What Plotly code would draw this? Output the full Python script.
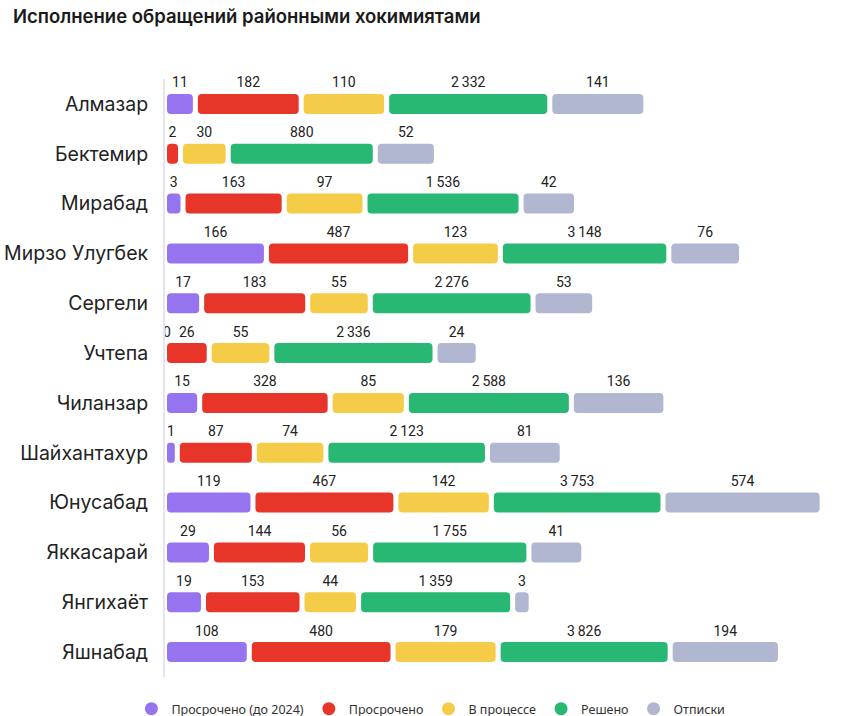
import plotly.graph_objects as go

# ---------------- data ----------------
districts = ["Алмазар", "Бектемир", "Мирабад", "Мирзо Улугбек", "Сергели", "Учтепа",
             "Чиланзар", "Шайхантахур", "Юнусабад", "Яккасарай", "Янгихаёт", "Яшнабад"]
overdue_pre2024 = [11, None, 3, 166, 17, 0, 15, 1, 119, 29, 19, 108]
overdue = [182, 2, 163, 487, 183, 26, 328, 87, 467, 144, 153, 480]
in_progress = [110, 30, 97, 123, 55, 55, 85, 74, 142, 56, 44, 179]
resolved = [2332, 880, 1536, 3148, 2276, 2336, 2588, 2123, 3753, 1755, 1359, 3826]
rejected = [141, 52, 42, 76, 53, 24, 136, 81, 574, 41, 3, 194]

series_names = ["Просрочено (до 2024)", "Просрочено", "В процессе", "Решено", "Отписки"]
series_values = [overdue_pre2024, overdue, in_progress, resolved, rejected]

# ---------------- style ----------------
colors = ["#9673EF", "#E8352A", "#F5CC48", "#28B874", "#B1B6D1"]
# per-series length scale: k * v**p, softly capped
scale_params = [(7.8, 0.5, 160), (7.8, 0.5, 160), (7.8, 0.5, 160), (67.4, 0.11, None), (7.8, 0.5, 180)]
GAP = 5
BAR_W = 0.4
LABEL_OFFSET = 0.40

W, H = 867, 716


def seg_len(v, k, p, cap):
    if not v:
        return 0.0
    raw = k * v ** p
    if cap is None:
        return raw
    return (raw ** -4 + cap ** -4) ** -0.25


def fmt(v):
    return f"{v:,}".replace(",", "\u2009")


rows = list(range(len(districts)))
cursor = [0.0] * len(districts)

fig = go.Figure()
label_x, label_y, label_t = [], [], []
for name, vals, col, prm in zip(series_names, series_values, colors, scale_params):
    bases, lens = [], []
    for i, v in enumerate(vals):
        L = seg_len(v, *prm)
        bases.append(cursor[i])
        lens.append(L)
        if v is not None:
            label_x.append(cursor[i] + L / 2)
            label_y.append(i - LABEL_OFFSET)
            label_t.append(fmt(v))
        if L > 0:
            cursor[i] += L + GAP
    fig.add_trace(go.Bar(
        y=rows, x=lens, base=bases, orientation="h", width=BAR_W,
        marker=dict(color=col, line=dict(width=0), cornerradius=4),
        showlegend=False, hoverinfo="skip", name=name,
    ))
    fig.add_trace(go.Scatter(
        x=[None], y=[None], mode="markers", name=name,
        marker=dict(symbol="circle", size=13, color=col),
    ))

fig.add_trace(go.Scatter(
    x=label_x, y=label_y, text=label_t, mode="text", showlegend=False,
    textposition="middle center", hoverinfo="skip", cliponaxis=False,
    textfont=dict(family="Roboto, sans-serif", size=14, color="#222222"),
))

fig.update_layout(
    width=W, height=H,
    margin=dict(l=165, r=0, t=78.6, b=39.4, autoexpand=False),
    paper_bgcolor="white", plot_bgcolor="white",
    barmode="overlay",
    title=dict(
        text="Исполнение обращений районными хокимиятами",
        x=13 / W, xanchor="left", xref="container",
        y=1 - 17 / H, yanchor="middle", yref="container",
        font=dict(family="Inter, sans-serif", size=18.5, color="#1a1a1a", weight=600),
    ),
    xaxis=dict(range=[-2, 700], showgrid=False, zeroline=False, showticklabels=False,
               showline=False, fixedrange=True),
    yaxis=dict(
        range=[11.5, -0.5], tickvals=rows, ticktext=districts,
        showgrid=False, zeroline=False, showline=True, linecolor="#E4E4F2", linewidth=2,
        ticks="outside", ticklen=11, tickcolor="rgba(0,0,0,0)",
        tickfont=dict(family="Inter, sans-serif", size=19.5, color="#222222"),
    ),
    legend=dict(
        orientation="h", xref="container", x=0.497, xanchor="center",
        yref="container", y=1 - 709 / H, yanchor="middle",
        font=dict(family="Noto Sans, sans-serif", size=12.5, color="#333333"),
        itemwidth=30, bgcolor="rgba(0,0,0,0)",
    ),
)

fig.write_html("out.html", config={"displayModeBar": False},
               post_script="document.body.style.margin='0';")
